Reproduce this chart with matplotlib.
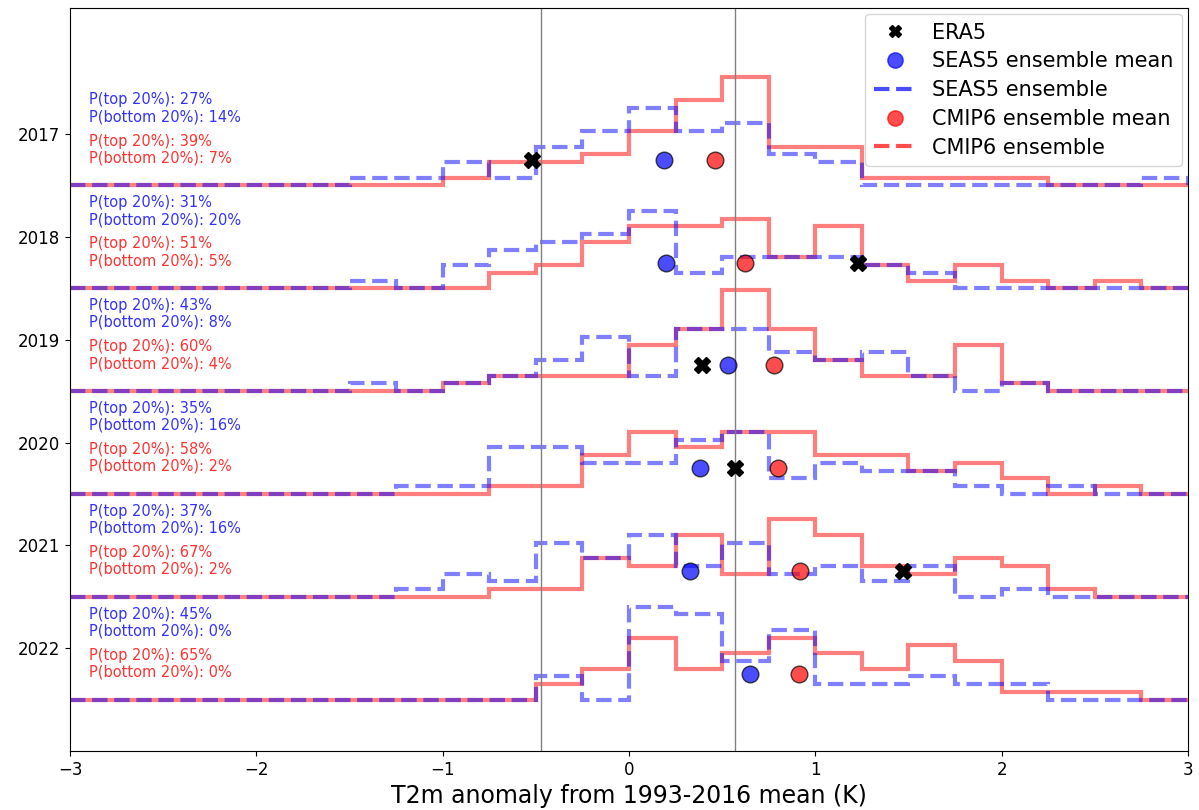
import matplotlib
matplotlib.use("Agg")
import matplotlib.pyplot as plt
from matplotlib.lines import Line2D
import numpy as np

years = [2017, 2018, 2019, 2020, 2021, 2022]
bin_edges = np.arange(-3, 3.001, 0.25)

# ensemble members per 0.25 K bin, from -3 K to 3 K
seas5_counts = [
    [0, 0, 0, 0, 0, 0, 1, 1, 3, 1, 5, 7, 10, 7, 8, 4, 3, 0, 0, 0, 0, 0, 0, 1],
    [0, 0, 0, 0, 0, 0, 1, 0, 3, 5, 6, 7, 10, 2, 4, 4, 4, 3, 2, 0, 0, 0, 0, 0],
    [0, 0, 0, 0, 0, 0, 1, 0, 1, 2, 4, 7, 2, 8, 8, 5, 4, 5, 2, 0, 1, 0, 0, 0],
    [0, 0, 0, 0, 0, 0, 0, 1, 1, 6, 6, 4, 4, 7, 8, 2, 4, 3, 3, 1, 0, 1, 0, 0],
    [0, 0, 0, 0, 0, 0, 0, 1, 3, 2, 7, 5, 8, 4, 7, 3, 4, 2, 4, 0, 1, 0, 0, 0],
    [0, 0, 0, 0, 0, 0, 0, 0, 0, 0, 3, 0, 12, 11, 5, 9, 2, 2, 3, 2, 2, 0, 0, 0],
]
cmip6_counts = [
    [0, 0, 0, 0, 0, 0, 0, 0, 1, 3, 3, 4, 7, 11, 14, 5, 5, 1, 1, 1, 1, 0, 0, 0],
    [0, 0, 0, 0, 0, 0, 0, 0, 0, 2, 3, 6, 8, 8, 9, 4, 8, 3, 1, 3, 1, 0, 1, 0],
    [0, 0, 0, 0, 0, 0, 0, 0, 1, 2, 2, 2, 6, 8, 13, 8, 4, 2, 2, 6, 1, 0, 0, 0],
    [0, 0, 0, 0, 0, 0, 0, 0, 0, 1, 1, 5, 8, 6, 8, 8, 5, 5, 3, 4, 2, 0, 1, 0],
    [0, 0, 0, 0, 0, 0, 0, 0, 0, 1, 1, 5, 4, 8, 3, 10, 8, 4, 3, 5, 4, 1, 0, 0],
    [0, 0, 0, 0, 0, 0, 0, 0, 0, 0, 2, 4, 8, 4, 6, 8, 6, 4, 7, 5, 1, 1, 1, 0],
]

era5 = [-0.52, 1.23, 0.39, 0.57, 1.47, np.nan]
seas5_mean = [0.19, 0.20, 0.53, 0.38, 0.33, 0.65]
cmip6_mean = [0.46, 0.62, 0.78, 0.80, 0.92, 0.91]

seas5_top = [27, 31, 43, 35, 37, 45]
seas5_bottom = [14, 20, 8, 16, 16, 0]
cmip6_top = [39, 51, 60, 58, 67, 65]
cmip6_bottom = [7, 5, 4, 2, 2, 0]

# climatological quintile thresholds
q_bottom = -0.47
q_top = 0.57

scale = 0.0754  # height of one member on the y axis

fig = plt.figure(figsize=(11.99, 8.10), dpi=100)
ax = fig.add_axes([0.0584, 0.0728, 0.9324, 0.9173])

ax.axvline(q_bottom, color="gray", lw=1)
ax.axvline(q_top, color="gray", lw=1)

for i, year in enumerate(years):
    y0 = -i
    base = y0 - 0.5
    ax.stairs(np.array(cmip6_counts[i]) * scale + base, bin_edges, baseline=base,
              color="red", alpha=0.5, lw=3)
    ax.stairs(np.array(seas5_counts[i]) * scale + base, bin_edges, baseline=base,
              color="blue", alpha=0.5, lw=3, ls="--")
    ax.plot(era5[i], y0 - 0.25, marker="X", color="k", ms=12, ls="none")
    ax.plot(seas5_mean[i], y0 - 0.25, marker="o", color="blue", alpha=0.7,
            mec="k", ms=12, ls="none")
    ax.plot(cmip6_mean[i], y0 - 0.25, marker="o", color="red", alpha=0.7,
            mec="k", ms=12, ls="none")
    ax.text(-2.9, y0 + 0.25, f"P(top 20%): {seas5_top[i]}%\nP(bottom 20%): {seas5_bottom[i]}%",
            color="blue", alpha=0.8, fontsize=10.5, linespacing=1.15,
            va="center", ha="left")
    ax.text(-2.9, y0 - 0.15, f"P(top 20%): {cmip6_top[i]}%\nP(bottom 20%): {cmip6_bottom[i]}%",
            color="red", alpha=0.8, fontsize=10.5, linespacing=1.15,
            va="center", ha="left")

ax.set_xlim(-3, 3)
ax.set_ylim(-6, 1.226)
ax.set_yticks([-i for i in range(len(years))])
ax.set_yticklabels([str(y) for y in years])
ax.tick_params(labelsize=12)
ax.set_xlabel("T2m anomaly from 1993-2016 mean (K)", fontsize=17)

handles = [
    Line2D([0], [0], marker="X", color="k", ls="none", ms=9),
    Line2D([0], [0], marker="o", color="blue", alpha=0.7, ls="none", ms=11),
    Line2D([0], [0], color="blue", alpha=0.7, ls="--", lw=3),
    Line2D([0], [0], marker="o", color="red", alpha=0.7, ls="none", ms=11),
    Line2D([0], [0], color="red", alpha=0.7, ls="--", lw=3),
]
labels = ["ERA5", "SEAS5 ensemble mean", "SEAS5 ensemble",
          "CMIP6 ensemble mean", "CMIP6 ensemble"]
ax.legend(handles, labels, loc="upper right", fontsize=15, labelspacing=0.42,
          borderaxespad=0.3)

fig.savefig("out.png", dpi=100)
